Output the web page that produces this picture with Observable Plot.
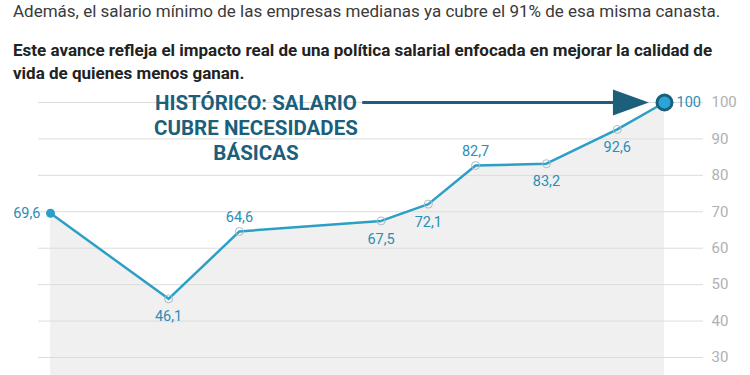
<!DOCTYPE html>
<html>
<head>
<meta charset="utf-8">
<script src="https://cdn.jsdelivr.net/npm/d3@7"></script>
<script src="https://cdn.jsdelivr.net/npm/@observablehq/plot@0.6"></script>
<style>
  html, body { margin: 0; padding: 0; background: #fff; }
  body { width: 750px; height: 375px; overflow: hidden; font-family: Roboto, "Noto Sans", sans-serif; }
  #header { height: 88px; position: relative; }
  #l1 { position: absolute; left: 13px; top: -1px; font-size: 17px; line-height: 24px; color: #3a3a3a; white-space: nowrap; }
  #l2 { position: absolute; left: 13px; top: 39px; font-size: 17px; line-height: 23px; color: #222; font-weight: 700; white-space: nowrap; }
  #chart svg { display: block; }
</style>
</head>
<body>
<div id="header">
  <div id="l1">Además, el salario mínimo de las empresas medianas ya cubre el 91% de esa misma canasta.</div>
  <div id="l2">Este avance refleja el impacto real de una política salarial enfocada en mejorar la calidad de<br>vida de quienes menos ganan.</div>
</div>
<div id="chart"></div>
<script>
// Data
const periodo = [0, 5, 8, 14, 16, 18, 21, 24, 26];
const valores = [69.6, 46.1, 64.6, 67.5, 72.1, 82.7, 83.2, 92.6, 100];
const etiquetas = ["69,6", "46,1", "64,6", "67,5", "72,1", "82,7", "83,2", "92,6", "100"];
const posicion = ["left", "below", "above", "below", "below", "above", "below", "below", "right"];
const yTicks = [30, 40, 50, 60, 70, 80, 90, 100];
const notaTexto = ["HISTÓRICO: SALARIO", "CUBRE NECESIDADES", "BÁSICAS"];
const notaX = [8.7];
const notaY = [102.6];
const flechaX = [13.2, 25.34];
const flechaY = [100];

const data = periodo.map((p, i) => ({p, v: valores[i], label: etiquetas[i], pos: posicion[i]}));

const blue = "#2b9fc6";
const dark = "#1b5f7b";
const labelColor = "#2c8db5";

const offsets = {
  left: {dx: -10, dy: 0, textAnchor: "end"},
  right: {dx: 12, dy: 0, textAnchor: "start"},
  above: {dx: 0, dy: -14, textAnchor: "middle"},
  below: {dx: 0, dy: 18, textAnchor: "middle"}
};

const labelMarks = Object.entries(offsets).map(([k, o]) =>
  Plot.text(data.filter(d => d.pos === k), {
    x: "p", y: "v", text: "label", dx: o.dx, dy: o.dy, textAnchor: o.textAnchor,
    fontSize: 14.5, fill: labelColor
  })
);

const triangle = {
  draw(context) {
    context.moveTo(0, 0);
    context.lineTo(-36, -13);
    context.lineTo(-36, 13);
    context.closePath();
  }
};

const chart = Plot.plot({
  width: 750,
  height: 287,
  marginTop: 0,
  marginBottom: 0,
  marginLeft: 38,
  marginRight: 47,
  style: {fontFamily: "Roboto, sans-serif", background: "transparent", overflow: "visible"},
  x: {domain: [0, 26], range: [50, 664], axis: null},
  y: {domain: [25.06, 103.84]},
  marks: [
    Plot.areaY(data, {x: "p", y: "v", fill: "#f0f0f0", clip: true}),
    Plot.gridY(yTicks, {stroke: "#dcdcdc", strokeOpacity: 1, strokeWidth: 1}),
    Plot.axisY(yTicks, {anchor: "right", tickSize: 0, tickPadding: 8, fontSize: 15, color: "#b0b0b0", label: null}),
    Plot.line(data, {x: "p", y: "v", stroke: blue, strokeWidth: 2.5}),
    Plot.dot(data.slice(1, -1), {x: "p", y: "v", r: 4, stroke: "#a8bcc6", strokeWidth: 1, fill: "none"}),
    Plot.dot(data.slice(0, 1), {x: "p", y: "v", r: 4.5, fill: blue}),
    Plot.dot(data.slice(-1), {x: "p", y: "v", r: 7.5, fill: "#2aa5d8", stroke: dark, strokeWidth: 3}),
    ...labelMarks,
    Plot.link([0], {x1: flechaX[0], x2: flechaX[1] - 1, y1: flechaY[0], y2: flechaY[0], stroke: dark, strokeWidth: 3}),
    Plot.dot([0], {x: flechaX[1], y: flechaY[0], symbol: triangle, fill: dark, stroke: "none"}),
    Plot.text([notaTexto.join("\n")], {x: notaX[0], y: notaY[0], text: d => d, lineAnchor: "top", lineHeight: 1.2, fontSize: 20.5, fontWeight: 700, fill: dark, textAnchor: "middle"})
  ]
});
document.getElementById("chart").appendChild(chart);
</script>
</body>
</html>
